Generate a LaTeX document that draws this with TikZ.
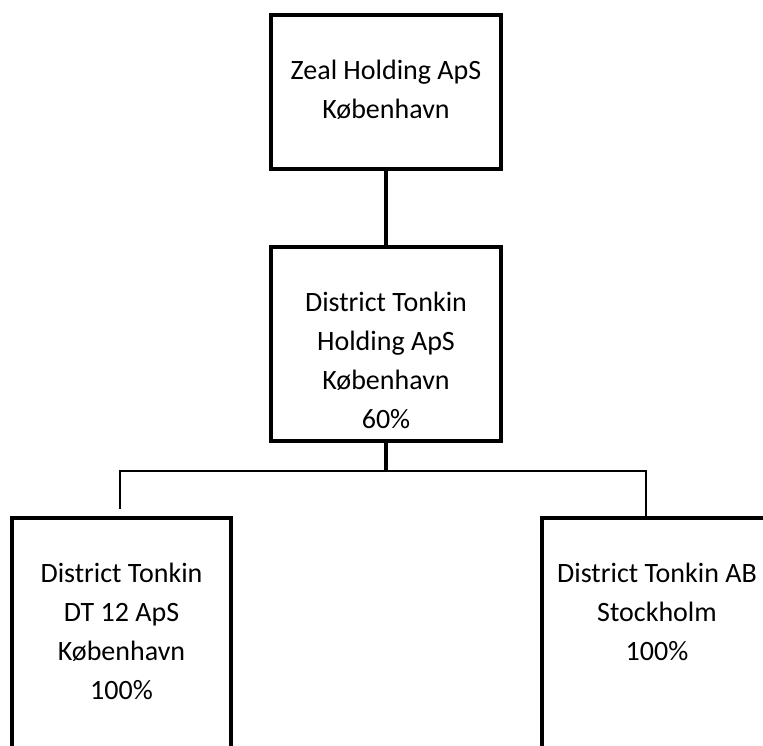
\documentclass[tikz,border=0pt]{standalone}
\usepackage{fontspec}
\setmainfont{Carlito}
\usepackage{tikz}
\usetikzlibrary{positioning}
\tikzstyle{box}=[draw, line width=3.3pt, inner sep=0pt]
\tikzstyle{txt}=[inner sep=0pt, align=center, font=\fontsize{28}{39}\selectfont]
\tikzstyle{link}=[line width=4pt]
\tikzstyle{branch}=[line width=2.7pt]

\begin{document}
\begin{tikzpicture}[x=1pt,y=1pt]
\useasboundingbox (0,0) rectangle (763,745);
% boxes
\node[box, minimum width=230pt, minimum height=154pt] (zeal) at (386,653) {};
\node[box, minimum width=230pt, minimum height=194pt] (dth) at (386,401) {};
\node[box, minimum width=219pt, minimum height=260pt] (dt12) at (121.5,97) {};
\node[box, minimum width=230pt, minimum height=260pt] (dtab) at (657,97) {};
% texts
\node[txt, below=47pt of zeal.north] (zealtxt) {Zeal Holding ApS\\København};
\node[txt, below=47pt of dth.north] (dthtxt) {District Tonkin\\Holding ApS\\København\\60\%};
\node[txt, below=47pt of dt12.north] (dt12txt) {District Tonkin\\DT 12 ApS\\København\\100\%};
\node[txt, below=47pt of dtab.north] (dtabtxt) {District Tonkin AB\\Stockholm\\100\%};
% connectors
\coordinate (fork) at (386,274);
\coordinate (forkL) at (120,274);
\coordinate (forkR) at (646,274);
\coordinate (endL) at (120,236);
\draw[link] (zeal) -- (dth);
\draw[link] (dth) -- (fork);
\draw[branch] (endL) -- (forkL) -- (forkR) -- (forkR |- dtab.north);
\end{tikzpicture}
\end{document}
